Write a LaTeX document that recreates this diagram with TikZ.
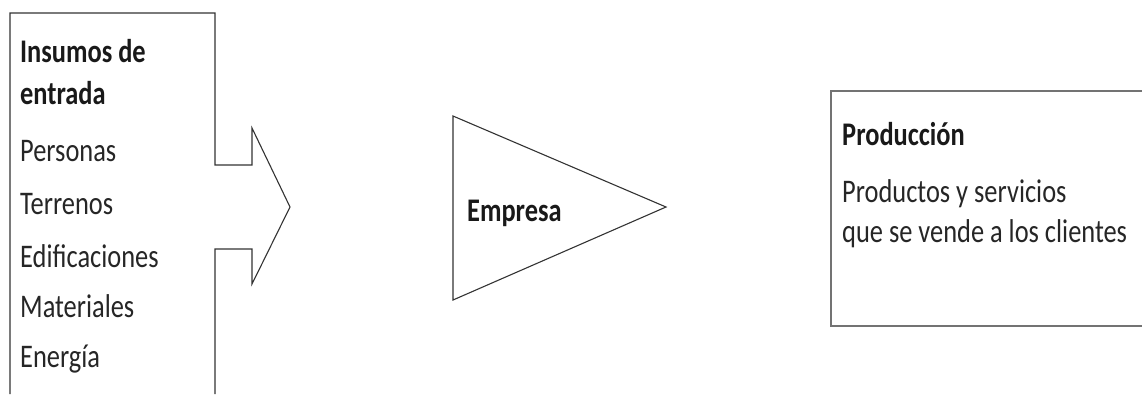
\documentclass[tikz,border=0pt]{standalone}
\usepackage{fontspec}
\setmainfont{Carlito}[FakeStretch=0.8]
\usepackage{tikz}
\usetikzlibrary{positioning, calc}
\tikzset{
  inframe/.style={draw=black!80, line width=1.1pt, line join=miter},
  firmshape/.style={draw=black!80, line width=1.1pt, line join=miter},
  outframe/.style={draw=black!55, line width=1.6pt},
  headtext/.style={font=\bfseries\fontsize{33}{36}\selectfont, text=black!90,
    anchor=base west, inner sep=0pt},
  itemtext/.style={font=\fontsize{33}{36}\selectfont, text=black!85,
    anchor=base west, inner sep=0pt}
}

\begin{document}
\begin{tikzpicture}[x=1pt, y=-1pt]
\useasboundingbox (0,0) rectangle (1142,394);

% insumos: caja con flecha
\coordinate (inTL) at (10,13);
\coordinate (inTR) at (215,13);
\draw[inframe] (10,394) -- (inTL) -- (inTR) -- (215,165) -- (252,165)
  -- (252,128) -- (290,207) -- (252,284) -- (252,249) -- (215,249) -- (215,394);

\node[headtext] (head1) at (20,62) {Insumos de};
\node[headtext] (head2) at (20,104) {entrada};
\foreach \txt/\y [count=\i] in {Personas/161, Terrenos/214, Edificaciones/267,
    Materiales/317, Energía/367}
  \node[itemtext] (item\i) at (20,\y) {\txt};

% empresa
\coordinate (firmA) at (453,116);
\coordinate (firmB) at (666,207);
\coordinate (firmC) at (453,300);
\draw[firmshape] (firmA) -- (firmB) -- (firmC) -- cycle;
\node[headtext] (firm) at (467,221) {Empresa};

% produccion
\draw[outframe] (1142,91) -- (831,91) -- (831,326) -- (1142,326);
\node[headtext] (prodhead) at (842,145) {Producción};
\node[itemtext] (prod1) at (842,202) {Productos y servicios};
\node[itemtext] (prod2) at (842,242) {que se vende a los clientes};

\end{tikzpicture}
\end{document}
